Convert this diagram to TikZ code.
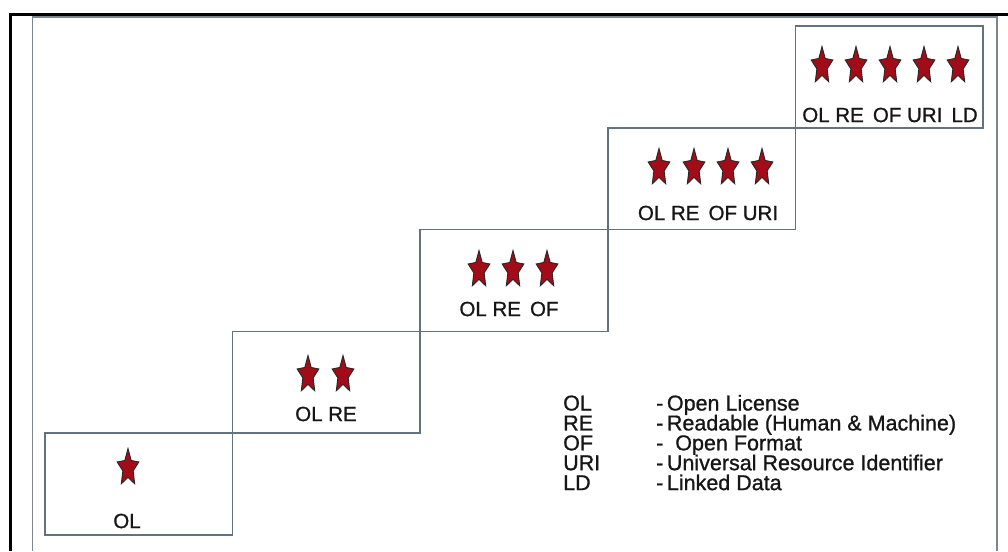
\documentclass[tikz,border=0pt]{standalone}
\usepackage{fontspec}
\setmainfont{Liberation Sans}[FakeBold=1.2]
\newfontfamily\heavyfont{Liberation Sans}[FakeBold=1.0]
\usepackage{tikz}
\usetikzlibrary{shapes.geometric,positioning}
\definecolor{stepline}{RGB}{98,114,126}
\definecolor{frameline}{RGB}{125,134,140}
\definecolor{stared}{RGB}{162,12,24}
\definecolor{inkgray}{RGB}{22,22,22}

\begin{document}
\begin{tikzpicture}[x=1pt, y=-1pt,
  stepbox/.style={draw=stepline, line width=1.6pt, minimum width=187.6pt, minimum height=101.8pt,
                  inner sep=0pt, outer sep=0pt},
  starnode/.style={star, star points=5, star point ratio=2.1, minimum size=30pt, inner sep=0pt,
                   draw=black!85, fill=stared, line width=0.9pt, xscale=0.76, yscale=1.3, transform shape},
  lab/.style={font=\heavyfont\fontsize{20.5}{24}\selectfont, text=inkgray, inner sep=0pt},
  key/.style={font=\heavyfont\fontsize{21.5}{24}\selectfont, text=inkgray, inner sep=0pt, anchor=base west}]
  \useasboundingbox (0,0) rectangle (1008,551);
  % frames
  \draw[black, line width=3pt] (10.5,551) -- (10.5,14.5) -- (1008,14.5);
  \draw[frameline, line width=1.8pt] (32.5,551) -- (32.5,17) -- (997,17) -- (997,551);
  % steps
  \node[stepbox] (step1) at (138.8,484.1) {};
  \node[stepbox] (step2) at (326.4,382.3) {};
  \node[stepbox] (step3) at (514.0,280.5) {};
  \node[stepbox] (step4) at (701.6,178.7) {};
  \node[stepbox] (step5) at (889.2,76.9) {};
  % stars
  \node[starnode] (s11) at (128,468) {};
  \node[starnode] (s21) at (308,375) {};
  \node[starnode] (s22) at (343,375) {};
  \node[starnode] (s31) at (479,270) {};
  \node[starnode] (s32) at (513,270) {};
  \node[starnode] (s33) at (547,270) {};
  \node[starnode] (s41) at (659,168) {};
  \node[starnode] (s42) at (694,168) {};
  \node[starnode] (s43) at (728,168) {};
  \node[starnode] (s44) at (762,168) {};
  \node[starnode] (s51) at (822,66) {};
  \node[starnode] (s52) at (856,66) {};
  \node[starnode] (s53) at (890,66) {};
  \node[starnode] (s54) at (924,66) {};
  \node[starnode] (s55) at (958,66) {};
  % step labels
  \node[lab] (lab1) at (127,521) {OL};
  \node[lab] (lab2) at (326,414) {OL RE};
  \node[lab] (lab3) at (509,309) {OL RE\ \,OF};
  \node[lab] (lab4) at (708,213) {OL RE\ \,OF URI};
  \node[lab] (lab5) at (890,115) {OL RE\ \,OF URI\ \,LD};
  % legend
  \node[key] (kOL)  at (563,410.5) {OL};
  \node[key] (kRE)  at (563,430.4) {RE};
  \node[key] (kOF)  at (563,450.3) {OF};
  \node[key] (kURI) at (563,470.2) {URI};
  \node[key] (kLD)  at (563,490.1) {LD};
  \node[key] (dOL)  at (656,410.5) {-\,Open License};
  \node[key] (dRE)  at (656,430.4) {-\,Readable (Human \& Machine)};
  \node[key] (dOF)  at (656,450.3) {-\ \ Open Format};
  \node[key] (dURI) at (656,470.2) {-\,Universal Resource Identifier};
  \node[key] (dLD)  at (656,490.1) {-\,Linked Data};
\end{tikzpicture}
\end{document}
